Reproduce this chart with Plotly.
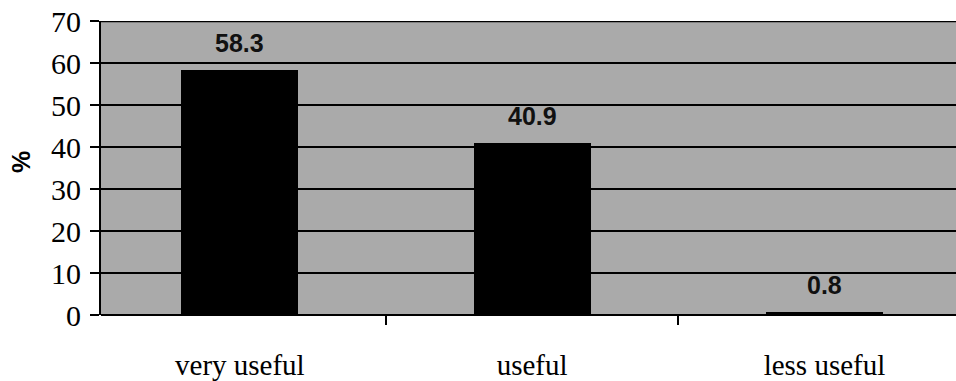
import plotly.graph_objects as go

categories = ["very useful", "useful", "less useful"]
values = [58.3, 40.9, 0.8]
value_labels = ["58.3", "40.9", "0.8"]
y_ticks = [0, 10, 20, 30, 40, 50, 60, 70]

fig = go.Figure()
fig.add_trace(go.Bar(
    x=categories, y=values, width=0.40,
    marker=dict(color="#000000", line=dict(width=0)),
    hoverinfo="skip",
))

for c, v, t in zip(categories, values, value_labels):
    fig.add_annotation(x=c, y=v, text="<b>" + t + "</b>", showarrow=False, yshift=27,
                       font=dict(family="Liberation Sans", size=25, color="#111111"))

fig.add_annotation(xref="paper", yref="paper", x=0, y=0.52, xshift=-80,
                   xanchor="center", yanchor="middle",
                   text="<b>%</b>", textangle=-90, showarrow=False,
                   font=dict(family="Liberation Sans", size=25, color="#000000"))

# top border line at the maximum of the value axis
fig.add_shape(type="line", xref="paper", yref="y", x0=0, x1=1, y0=70, y1=70,
              line=dict(color="#000", width=2.5))

fig.update_layout(
    width=956, height=381,
    margin=dict(l=101, r=0, t=21, b=64),
    paper_bgcolor="#ffffff",
    plot_bgcolor="#aaaaaa",
    showlegend=False,
    bargap=0,
)
fig.update_xaxes(
    range=[-0.475, 2.45],
    tickson="boundaries", ticks="outside", ticklen=9, tickwidth=1.5, tickcolor="#000",
    showline=False, showgrid=False, zeroline=False,
    tickfont=dict(family="Liberation Serif", size=29, color="#000"),
    ticklabelstandoff=30,
)
fig.update_yaxes(
    range=[0, 70], tickvals=y_ticks,
    ticks="outside", ticklen=9, tickwidth=1.5, tickcolor="#000",
    showline=True, linecolor="#000", linewidth=2,
    showgrid=True, gridcolor="#000", gridwidth=2,
    zeroline=True, zerolinecolor="#000", zerolinewidth=2,
    tickfont=dict(family="Liberation Serif", size=30, color="#000"),
    ticklabelstandoff=3,
)

fig.write_html("out.html")
